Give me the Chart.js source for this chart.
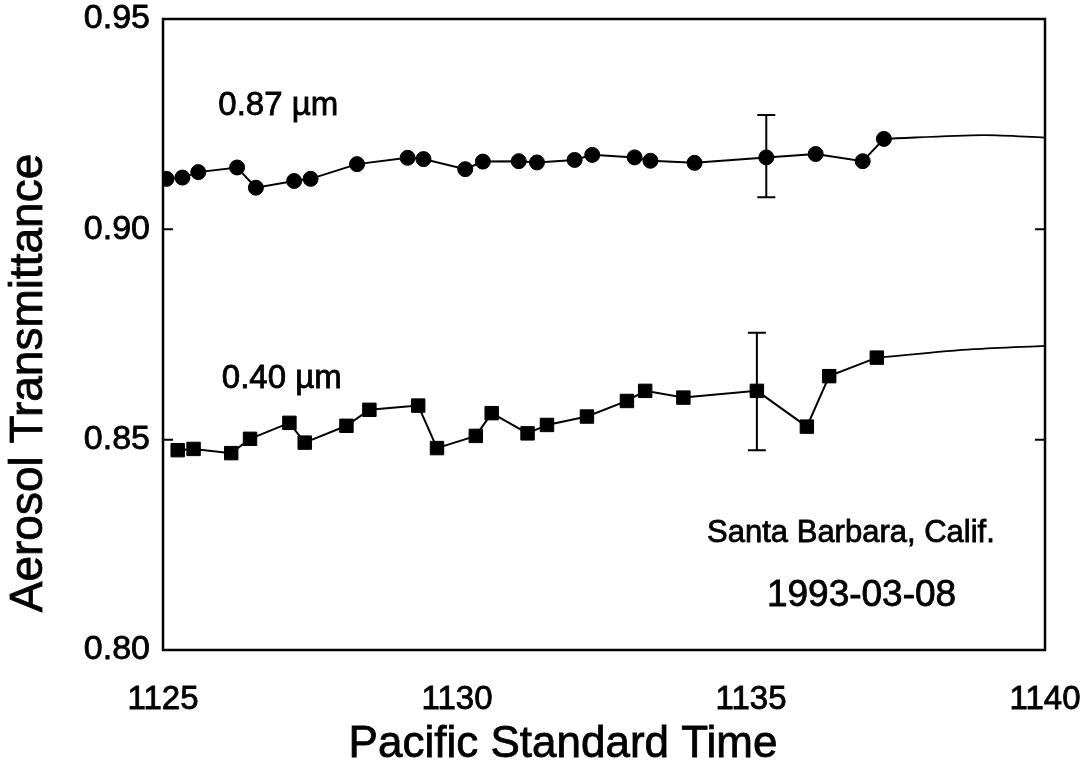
<!DOCTYPE html>
<html>
<head>
<meta charset="utf-8">
<title>Aerosol Transmittance</title>
<script src="https://cdn.jsdelivr.net/npm/chart.js@4/dist/chart.umd.min.js"></script>
<style>
  html, body { margin: 0; padding: 0; background: #fff; }
  #chart { display: block; }
</style>
</head>
<body>
<canvas id="chart" width="1092" height="782"></canvas>
<script>
// Measurement times (Pacific Standard Time, hhmm with decimal minutes)
const time087 = [1125.06, 1125.33, 1125.60, 1126.26, 1126.58, 1127.23, 1127.51, 1128.30,
                 1129.16, 1129.43, 1130.14, 1130.44, 1131.05, 1131.36, 1132.00, 1132.30,
                 1133.02, 1133.29, 1134.04, 1135.26, 1136.10, 1136.90, 1137.26];
const trans087 = [0.9120, 0.9123, 0.9136, 0.9147, 0.9099, 0.9115, 0.9120, 0.9155,
                  0.9170, 0.9167, 0.9143, 0.9161, 0.9162, 0.9159, 0.9165, 0.9177,
                  0.9171, 0.9163, 0.9158, 0.9171, 0.9179, 0.9162, 0.9215];

const time040 = [1125.25, 1125.52, 1126.16, 1126.48, 1127.15, 1127.41, 1128.12, 1128.51,
                 1129.34, 1129.66, 1130.32, 1130.59, 1131.20, 1131.53, 1132.21, 1132.89,
                 1133.20, 1133.85, 1135.10, 1135.95, 1136.33, 1137.14];
const trans040 = [0.8475, 0.8478, 0.8468, 0.8502, 0.8540, 0.8493, 0.8533, 0.8571,
                  0.8581, 0.8480, 0.8509, 0.8563, 0.8515, 0.8535, 0.8555, 0.8592,
                  0.8616, 0.8600, 0.8616, 0.8531, 0.8651, 0.8695];

// Smoothed continuation after the last measurement
const tailTime087 = [1137.26, 1138.95, 1140.00];
const tailTrans087 = [0.9215, 0.9224, 0.9218];
const tailTime040 = [1137.14, 1138.78, 1140.00];
const tailTrans040 = [0.8695, 0.8715, 0.8723];

// Representative uncertainty bars
const errTime = [1135.26, 1135.10];
const errLow  = [0.9076, 0.8475];
const errHigh = [0.9272, 0.8754];

// Axis ticks
const xTicks = [1125, 1130, 1135, 1140];
const yTicks = [0.80, 0.85, 0.90, 0.95];
const yInnerTicks = [0.85, 0.90];

// Text labels placed in data coordinates
const labelText = ['0.87 \u00b5m', '0.40 \u00b5m', 'Santa Barbara, Calif.', '1993-03-08'];
const labelTime = [1125.94, 1126.00, 1136.70, 1136.88];
const labelValue = [0.9293, 0.8645, 0.8277, 0.8128];
const labelSize = [33, 33, 31, 37];

const xTitle = 'Pacific Standard Time';
const yTitle = 'Aerosol Transmittance';

const FONT = "'Liberation Sans', Arial, Helvetica, sans-serif";
const TEXT_STROKE = 0.8;
Chart.defaults.font.family = FONT;
Chart.defaults.color = '#000';

const pts = (xs, ys) => xs.map((x, i) => ({ x: x, y: ys[i] }));

// Fill text with a hairline outline so glyphs read a little heavier
function heavyText(ctx, txt, x, y) {
  ctx.fillText(txt, x, y);
  ctx.lineWidth = TEXT_STROKE;
  ctx.strokeText(txt, x, y);
}

const decorations = {
  id: 'decorations',
  afterDatasetsDraw(chart) {
    const { ctx, scales: { x, y } } = chart;
    ctx.save();
    ctx.strokeStyle = '#000';
    ctx.lineWidth = 2;
    const cap = 9;
    errTime.forEach((t, i) => {
      const px = x.getPixelForValue(t);
      const top = y.getPixelForValue(errHigh[i]);
      const bot = y.getPixelForValue(errLow[i]);
      ctx.beginPath();
      ctx.moveTo(px, top); ctx.lineTo(px, bot);
      ctx.moveTo(px - cap, top); ctx.lineTo(px + cap, top);
      ctx.moveTo(px - cap, bot); ctx.lineTo(px + cap, bot);
      ctx.stroke();
    });
    ctx.restore();
  },
  afterDraw(chart) {
    const { ctx, chartArea: a, scales: { x, y } } = chart;
    ctx.save();
    // plot frame
    ctx.strokeStyle = '#000';
    ctx.lineWidth = 2.5;
    ctx.strokeRect(a.left, a.top, a.right - a.left, a.bottom - a.top);
    // inward tick marks on both vertical sides
    ctx.lineWidth = 2;
    yInnerTicks.forEach(v => {
      const py = y.getPixelForValue(v);
      ctx.beginPath();
      ctx.moveTo(a.left, py); ctx.lineTo(a.left + 10, py);
      ctx.moveTo(a.right, py); ctx.lineTo(a.right - 10, py);
      ctx.stroke();
    });
    // in-plot labels
    ctx.fillStyle = '#000';
    ctx.textBaseline = 'middle';
    labelText.forEach((txt, i) => {
      const px = x.getPixelForValue(labelTime[i]);
      const py = y.getPixelForValue(labelValue[i]);
      ctx.font = labelSize[i] + 'px ' + FONT;
      ctx.textAlign = i < 2 ? 'left' : 'center';
      heavyText(ctx, txt, px, py);
    });
    // axis titles
    ctx.textAlign = 'center';
    ctx.font = '44px ' + FONT;
    heavyText(ctx, xTitle, 563, 745);
    ctx.font = '46px ' + FONT;
    ctx.translate(29, 383);
    ctx.rotate(-Math.PI / 2);
    heavyText(ctx, yTitle, 0, 0);
    ctx.restore();
  }
};

new Chart(document.getElementById('chart'), {
  type: 'line',
  data: {
    datasets: [
      {
        label: '0.87 \u00b5m',
        data: pts(time087, trans087),
        borderColor: '#000', backgroundColor: '#000', borderWidth: 2,
        pointStyle: 'circle', pointRadius: 7.5, pointBorderWidth: 1,
        tension: 0
      },
      {
        label: '0.87 \u00b5m trend',
        data: pts(tailTime087, tailTrans087),
        borderColor: '#000', borderWidth: 1.8, pointRadius: 0, tension: 0.3
      },
      {
        label: '0.40 \u00b5m',
        data: pts(time040, trans040),
        borderColor: '#000', backgroundColor: '#000', borderWidth: 2,
        pointStyle: 'rect', pointRadius: 9.5, pointBorderWidth: 1,
        tension: 0
      },
      {
        label: '0.40 \u00b5m trend',
        data: pts(tailTime040, tailTrans040),
        borderColor: '#000', borderWidth: 1.8, pointRadius: 0, tension: 0.3
      }
    ]
  },
  options: {
    responsive: false,
    devicePixelRatio: 1,
    animation: false,
    layout: { padding: { top: 19, right: 47, left: 0, bottom: 0 } },
    plugins: { legend: { display: false }, tooltip: { enabled: false } },
    scales: {
      x: {
        type: 'linear', min: 1125, max: 1140,
        afterBuildTicks: s => { s.ticks = xTicks.map(v => ({ value: v })); },
        ticks: { font: { size: 33 }, color: '#000', padding: 30, maxRotation: 0,
                 textStrokeColor: '#000', textStrokeWidth: TEXT_STROKE,
                 callback: v => String(v) },
        grid: { display: false, drawTicks: false },
        border: { display: false },
        afterFit: s => { s.height = 132; s.paddingLeft = 0; s.paddingRight = 0; }
      },
      y: {
        type: 'linear', min: 0.80, max: 0.95,
        afterBuildTicks: s => { s.ticks = yTicks.map(v => ({ value: v })); },
        ticks: { font: { size: 34 }, color: '#000', padding: 13,
                 textStrokeColor: '#000', textStrokeWidth: TEXT_STROKE,
                 callback: v => Number(v).toFixed(2) },
        grid: { display: false, drawTicks: false },
        border: { display: false },
        afterFit: s => { s.width = 163; s.paddingTop = 0; s.paddingBottom = 0; }
      }
    }
  },
  plugins: [decorations]
});
</script>
</body>
</html>
